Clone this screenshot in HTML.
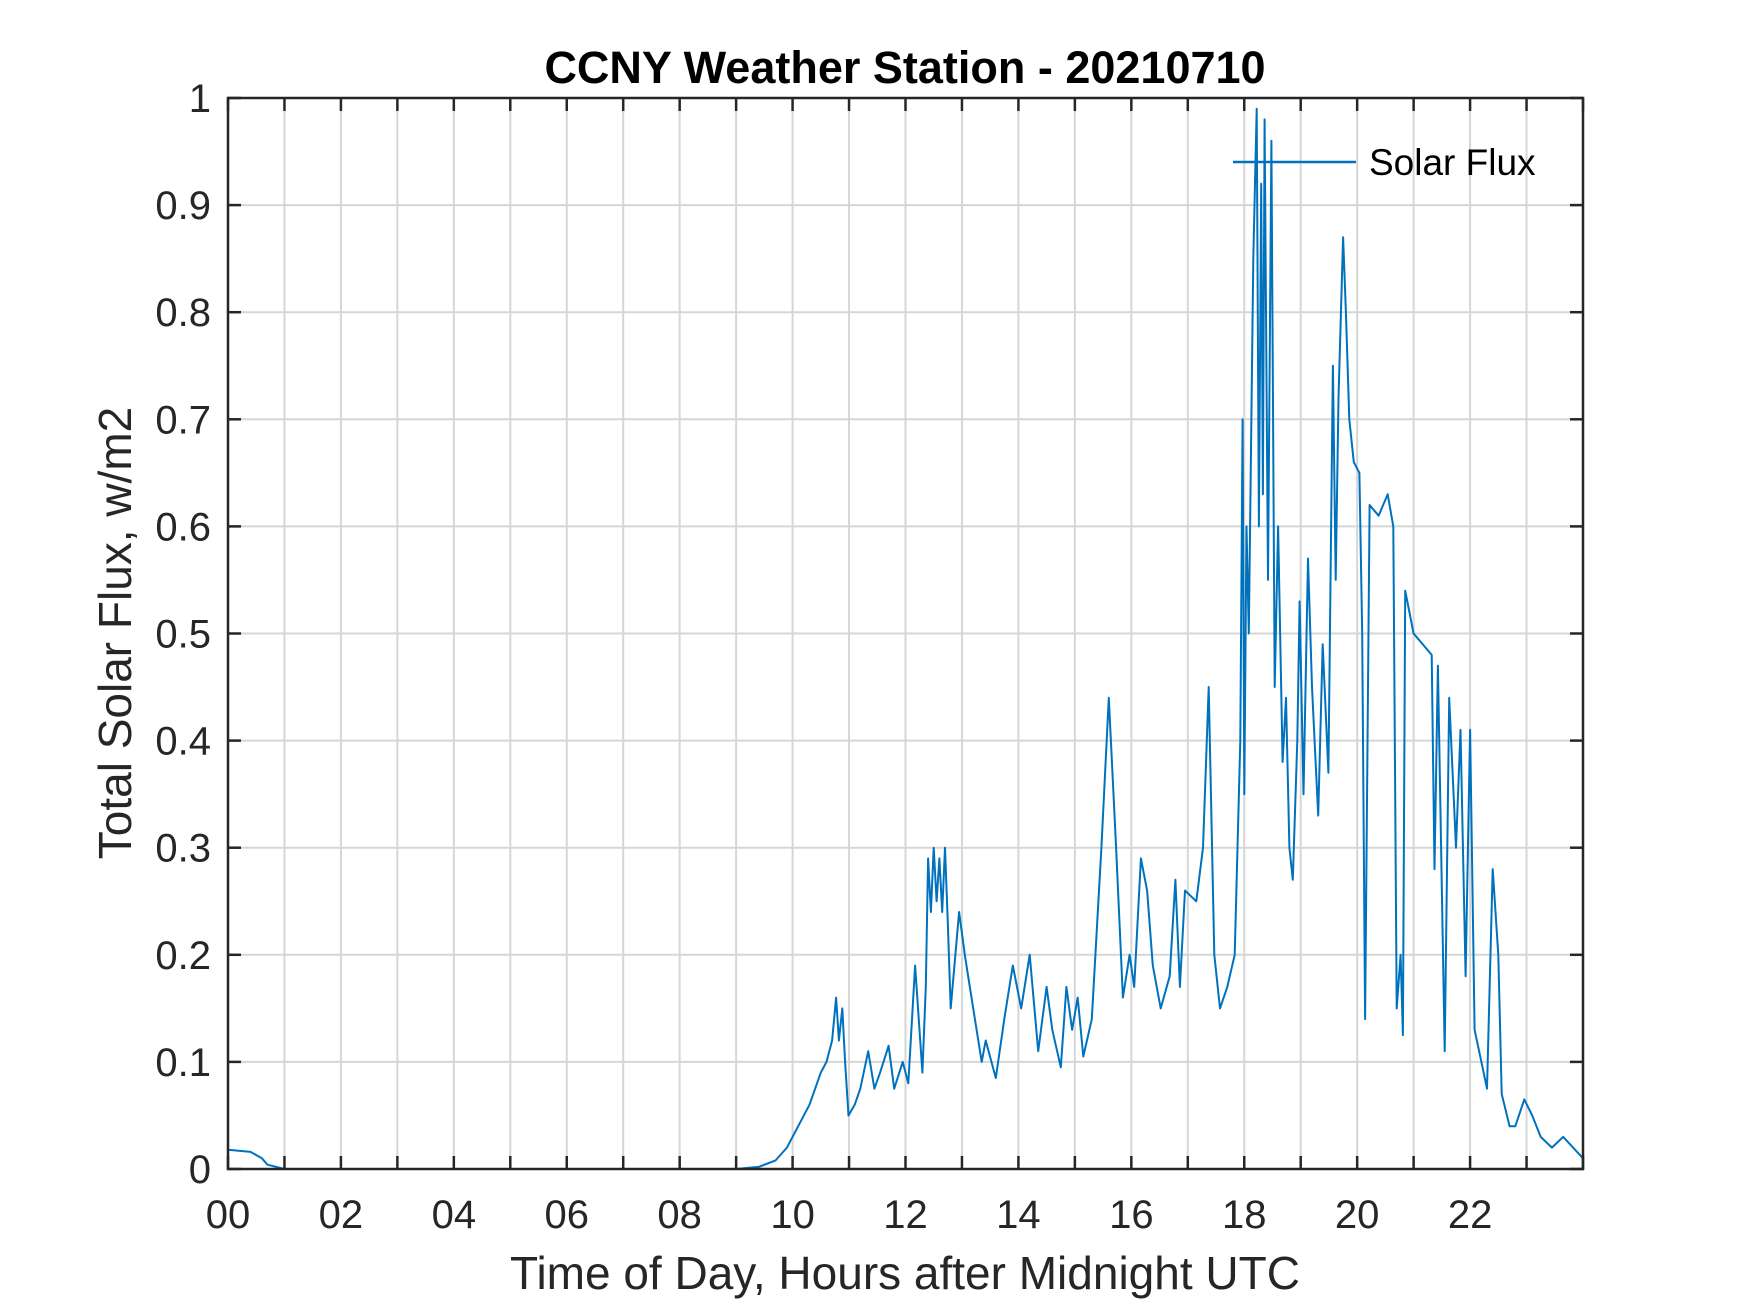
<!DOCTYPE html>
<html><head><meta charset="utf-8"><style>
html,body{margin:0;padding:0;background:#fff;}
svg{display:block;font-family:"Liberation Sans",Arial,sans-serif;}
</style></head><body>
<svg id="chart" width="1750" height="1313" viewBox="0 0 1750 1313" xmlns="http://www.w3.org/2000/svg">
<rect width="1750" height="1313" fill="#fff"/>
<g id="grid"></g>
<g id="series"></g>
<rect x="228" y="98" width="1355" height="1071" fill="none" stroke="#262626" stroke-width="2.5"/>
<g id="ticks"></g>
<text x="905" y="83" text-anchor="middle" font-size="45" font-weight="bold" fill="#000">CCNY Weather Station - 20210710</text>
<text x="905" y="1289" text-anchor="middle" font-size="46" fill="#262626">Time of Day, Hours after Midnight UTC</text>
<text transform="translate(131,633) rotate(-90)" text-anchor="middle" font-size="46" fill="#262626">Total Solar Flux, w/m2</text>
<g>
<line x1="1233" y1="162" x2="1356" y2="162" stroke="#0072BD" stroke-width="2.5"/>
<text x="1369" y="175" font-size="37" fill="#000">Solar Flux</text>
</g>
</svg>
<script>
const hours = [0,0.4,0.6,0.7,1.0,9.0,9.4,9.7,9.9,10.1,10.3,10.5,10.6,10.7,10.77,10.82,10.88,10.93,10.99,11.1,11.2,11.34,11.45,11.55,11.7,11.8,11.95,12.05,12.17,12.3,12.36,12.4,12.45,12.5,12.55,12.6,12.65,12.7,12.75,12.8,12.95,13.05,13.2,13.35,13.42,13.6,13.75,13.9,14.05,14.2,14.35,14.5,14.6,14.75,14.85,14.95,15.05,15.15,15.3,15.47,15.6,15.73,15.85,15.97,16.05,16.17,16.28,16.38,16.52,16.68,16.78,16.86,16.95,17.15,17.27,17.37,17.47,17.57,17.7,17.83,17.93,17.97,18.0,18.04,18.08,18.16,18.22,18.26,18.3,18.33,18.36,18.42,18.48,18.54,18.6,18.68,18.74,18.8,18.86,18.94,18.98,19.05,19.13,19.2,19.31,19.39,19.49,19.57,19.62,19.67,19.75,19.8,19.86,19.94,20.04,20.09,20.14,20.22,20.38,20.54,20.64,20.7,20.77,20.81,20.85,21.0,21.32,21.37,21.43,21.55,21.63,21.75,21.83,21.92,22.0,22.08,22.2,22.3,22.4,22.5,22.56,22.7,22.8,22.96,23.1,23.25,23.45,23.65,24.0];
const flux = [0.018,0.016,0.01,0.004,0,0,0.002,0.008,0.02,0.04,0.06,0.09,0.10,0.12,0.16,0.12,0.15,0.10,0.05,0.06,0.075,0.11,0.075,0.09,0.115,0.075,0.10,0.08,0.19,0.09,0.17,0.29,0.24,0.30,0.25,0.29,0.24,0.30,0.23,0.15,0.24,0.20,0.15,0.10,0.12,0.085,0.14,0.19,0.15,0.20,0.11,0.17,0.13,0.095,0.17,0.13,0.16,0.105,0.14,0.30,0.44,0.30,0.16,0.20,0.17,0.29,0.26,0.19,0.15,0.18,0.27,0.17,0.26,0.25,0.30,0.45,0.20,0.15,0.17,0.20,0.40,0.70,0.35,0.60,0.50,0.85,0.99,0.60,0.92,0.63,0.98,0.55,0.96,0.45,0.60,0.38,0.44,0.30,0.27,0.40,0.53,0.35,0.57,0.45,0.33,0.49,0.37,0.75,0.55,0.72,0.87,0.80,0.70,0.66,0.65,0.50,0.14,0.62,0.61,0.63,0.60,0.15,0.20,0.125,0.54,0.50,0.48,0.28,0.47,0.11,0.44,0.30,0.41,0.18,0.41,0.13,0.10,0.075,0.28,0.20,0.07,0.04,0.04,0.065,0.05,0.03,0.02,0.03,0.01];
const xTicks = [0,1,2,3,4,5,6,7,8,9,10,11,12,13,14,15,16,17,18,19,20,21,22,23,24];
const xTickLabels = ["00","","02","","04","","06","","08","","10","","12","","14","","16","","18","","20","","22","",""];
const yTicks = [0,0.1,0.2,0.3,0.4,0.5,0.6,0.7,0.8,0.9,1];
const yTickLabels = ["0","0.1","0.2","0.3","0.4","0.5","0.6","0.7","0.8","0.9","1"];

const L=228,R=1583,T=98,B=1169;
function xs(h){return L+(h-0)/24*(R-L);}
function ys(v){return B-(v-0)/1*(B-T);}
const NS="http://www.w3.org/2000/svg";
function mk(tag,attrs,parent){const e=document.createElementNS(NS,tag);for(const k in attrs)e.setAttribute(k,attrs[k]);parent.appendChild(e);return e;}
const grid=document.getElementById('grid'),ticks=document.getElementById('ticks'),series=document.getElementById('series');
xTicks.forEach((t,i)=>{
  const x=xs(t);
  const g=mk('line',{x1:x,y1:T,x2:x,y2:B,stroke:'#d6d6d6','stroke-width':2},grid);
  
  
  const a=mk('line',{x1:x,y1:B,x2:x,y2:B-13,stroke:'#262626','stroke-width':2.5},ticks);
  
  
  const b=mk('line',{x1:x,y1:T,x2:x,y2:T+13,stroke:'#262626','stroke-width':2.5},ticks);
  
  
  if(xTickLabels[i]){
    const tx=mk('text',{x:x,y:1228,'text-anchor':'middle','font-size':40,fill:'#262626'},ticks);
    tx.textContent=xTickLabels[i];
    
    
  }
});
yTicks.forEach((t,i)=>{
  const y=ys(t);
  const g=mk('line',{x1:L,y1:y,x2:R,y2:y,stroke:'#d6d6d6','stroke-width':2},grid);
  
  
  const a=mk('line',{x1:L,y1:y,x2:L+13,y2:y,stroke:'#262626','stroke-width':2.5},ticks);
  
  
  const b=mk('line',{x1:R,y1:y,x2:R-13,y2:y,stroke:'#262626','stroke-width':2.5},ticks);
  
  
  const tx=mk('text',{x:211,y:y+14,'text-anchor':'end','font-size':40,fill:'#262626'},ticks);
  tx.textContent=yTickLabels[i];
  
  
});
const pts=hours.map((h,i)=>xs(h).toFixed(1)+','+ys(flux[i]).toFixed(1)).join(' ');
const pl=mk('polyline',{points:pts,fill:'none',stroke:'#0072BD','stroke-width':2,'stroke-linejoin':'round'},series);


</script>
</body></html>
